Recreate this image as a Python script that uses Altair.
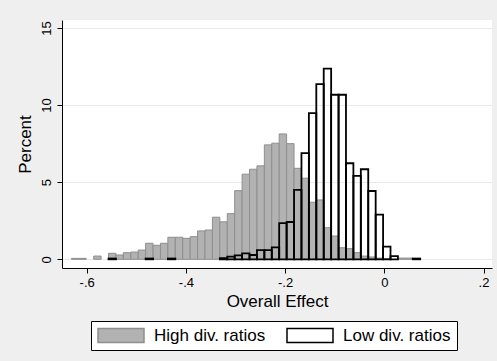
import altair as alt
import pandas as pd

# Histogram bins shared by both groups (lower edge of first bin, bin width)
bin_start = -0.6308
bin_width = 0.01496

# Percent of observations per bin, bins 0..46
high_pct = [0.06, 0.06, 0, 0.21, 0, 0.39, 0.28, 0.43, 0.47, 0.60,
            1.04, 0.91, 1.04, 1.43, 1.43, 1.36, 1.47, 1.84, 1.90, 2.73,
            2.43, 2.96, 4.45, 5.52, 5.84, 6.06, 7.42, 7.53, 8.13, 7.50,
            5.90, 5.26, 3.70, 3.85, 2.05, 1.51, 0.75, 0.69, 0.43, 0.21,
            0.15, 0.08, 0.05, 0, 0.08, 0.08, 0]
low_pct = [0, 0, 0, 0, 0, 0.05, 0, 0, 0, 0,
           0.05, 0, 0, 0.05, 0, 0, 0, 0, 0, 0,
           0.07, 0.17, 0.26, 0.39, 0.28, 0.60, 0.60, 0.78, 2.34, 2.42,
           4.50, 6.88, 9.48, 11.36, 12.36, 10.67, 10.67, 6.23, 5.41, 5.84,
           4.43, 2.90, 0.82, 0.21, 0, 0, 0.05]

series_names = ["High div. ratios", "Low div. ratios"]
fill_colors = ["#b2b2b2", "transparent"]
line_colors = ["#8e8e8e", "#000000"]

x_ticks = [-0.6, -0.4, -0.2, 0.0, 0.2]
y_ticks = [0, 5, 10, 15]

rows = []
for name, vals in zip(series_names, [high_pct, low_pct]):
    for k, v in enumerate(vals):
        if v > 0:
            rows.append({
                "series": name,
                "lo": bin_start + k * bin_width,
                "hi": bin_start + (k + 1) * bin_width,
                "pct": v,
                "base": 0.0,
            })
df = pd.DataFrame(rows)

FONT = "Liberation Sans"

legend = alt.Legend(
    title=None,
    orient="none",
    legendX=29,
    legendY=301,
    direction="horizontal",
    columns=2,
    columnPadding=20,
    symbolType="M-1,-0.3L1,-0.3L1,0.3L-1,0.3Z",
    symbolSize=2116,
    symbolStrokeWidth=1.5,
    clipHeight=17,
    labelOffset=9,
    labelFont=FONT,
    labelFontSize=17,
    labelColor="black",
    labelLimit=0,
    padding=6,
    strokeColor="black",
    fillColor="white",
)

x_enc = alt.X(
    "lo:Q",
    scale=alt.Scale(domain=[-0.6498, 0.2171], nice=False, zero=False),
    axis=alt.Axis(
        values=x_ticks,
        labelExpr="datum.value == 0 ? '0' : (datum.value < 0 ? '-' : '') + '.' + toString(round(abs(datum.value) * 10))",
        title="Overall Effect",
        grid=False,
    ),
)
y_enc = alt.Y(
    "pct:Q",
    scale=alt.Scale(domain=[-0.564, 15.519], nice=False, zero=False),
    axis=alt.Axis(values=y_ticks, title="Percent", grid=True),
)

base = alt.Chart(df).encode(
    x=x_enc,
    x2="hi:Q",
    y=y_enc,
    y2="base:Q",
    fill=alt.Fill("series:N", scale=alt.Scale(domain=series_names, range=fill_colors), legend=legend),
    stroke=alt.Stroke("series:N", scale=alt.Scale(domain=series_names, range=line_colors), legend=legend),
)

high_bars = base.transform_filter(alt.datum.series == series_names[0]).mark_bar(strokeWidth=1)
low_bars = base.transform_filter(alt.datum.series == series_names[1]).mark_bar(strokeWidth=1.8)

chart = (
    alt.layer(high_bars, low_bars)
    .properties(
        width=430,
        height=248,
        autosize=alt.AutoSizeParams(type="none"),
        padding={"left": 62, "top": 20, "right": 5, "bottom": 93},
        background="#efefef",
    )
    .configure_view(stroke=None, fill="white")
    .configure_axis(
        domainColor="black",
        domainWidth=1,
        tickColor="black",
        tickSize=5,
        labelFont=FONT,
        labelFontSize=13,
        labelColor="black",
        titleFont=FONT,
        titleFontSize=17,
        titleFontWeight="normal",
        titleColor="black",
        gridColor="#e3ebeb",
        gridWidth=1,
    )
    .configure_axisX(labelPadding=3, titlePadding=4)
    .configure_axisY(labelAngle=270, labelAlign="center", labelBaseline="bottom", labelPadding=4, titlePadding=6)
)

chart.save("out.html", embed_options={"renderer": "svg", "actions": False})
